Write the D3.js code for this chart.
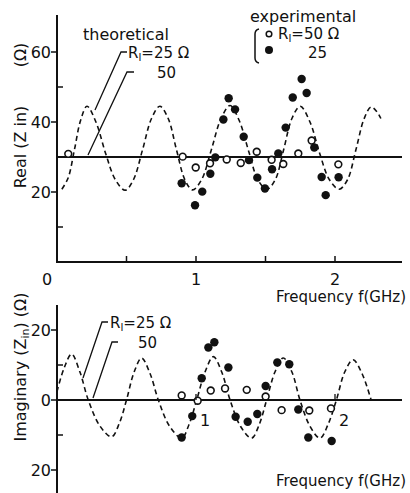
<!DOCTYPE html>
<html>
<head>
<meta charset="utf-8">
<script src="https://cdn.jsdelivr.net/npm/d3@7"></script>
<style>
  body { margin: 0; background: #fff; }
  svg text { font-family: "DejaVu Sans", sans-serif; fill: #111; }
</style>
</head>
<body>
<svg id="chart"></svg>
<script>
// theoretical curves (R_l = 25 ohm)
const realTheoF = [0.035, 0.08, 0.125, 0.17, 0.216, 0.28, 0.35, 0.42, 0.49, 0.55, 0.615, 0.68, 0.74, 0.80, 0.86, 0.92, 0.975, 1.04, 1.11, 1.18, 1.245, 1.31, 1.38, 1.445, 1.51, 1.57, 1.63, 1.69, 1.75, 1.82, 1.89, 1.96, 2.03, 2.09, 2.15, 2.21, 2.26, 2.30, 2.33];
const realTheoV = [20.8, 24, 32, 40.5, 44.5, 40, 31, 23.5, 20.5, 23.5, 32, 41, 44.5, 41, 32, 23.5, 20.6, 23.5, 32, 41, 44.7, 40.5, 31.5, 23.5, 20.8, 23.5, 32, 41, 44.5, 40, 31, 23.5, 20.8, 23.5, 32, 41, 44.3, 43, 41];
const realTheo50 = 30;

const imagTheoF = [0.0, 0.05, 0.105, 0.165, 0.225, 0.31, 0.393, 0.45, 0.50, 0.555, 0.609, 0.67, 0.729, 0.81, 0.897, 0.95, 1.005, 1.065, 1.125, 1.185, 1.245, 1.32, 1.40, 1.455, 1.508, 1.568, 1.628, 1.69, 1.748, 1.82, 1.892, 1.95, 2.01, 2.07, 2.13, 2.195, 2.26];
const imagTheoV = [2.4, 9, 13.1, 8, 0, -7.5, -10.5, -6.5, 0, 8, 12, 7.5, 0, -7.5, -10.9, -7, 0, 8, 12.4, 8, 0, -7.5, -10.9, -7, 0, 8, 12, 8, 0, -7.5, -10.9, -7, 0, 8, 11.5, 7.5, 0];
const imagTheo50 = 0;

// experimental, R_l = 50 (open circles)
const realExp50F = [0.081, 0.904, 0.998, 1.101, 1.221, 1.322, 1.437, 1.544, 1.628, 1.736, 1.832, 2.024];
const realExp50V = [30.9, 30.1, 27.0, 28.2, 29.3, 28.3, 31.5, 29.2, 28.0, 31.0, 34.7, 27.9];
// experimental, R_l = 25 (filled circles)
const realExp25F = [0.897, 0.993, 1.045, 1.103, 1.139, 1.197, 1.235, 1.281, 1.343, 1.381, 1.441, 1.496, 1.547, 1.592, 1.645, 1.696, 1.760, 1.796, 1.851, 1.904, 1.933, 2.026];
const realExp25V = [22.5, 16.2, 20.1, 25.2, 29.9, 40.7, 46.8, 43.6, 35.8, 29.1, 24.1, 21.0, 26.5, 31.0, 38.4, 47.0, 52.3, 48.3, 32.7, 24.3, 19.1, 24.2];

const imagExp50F = [0.897, 1.012, 1.106, 1.209, 1.365, 1.501, 1.616, 1.815, 1.971];
const imagExp50V = [1.3, -0.2, 2.7, 3.3, 2.9, 1.0, -2.9, -3.0, -2.4];
const imagExp25F = [0.897, 0.973, 1.041, 1.089, 1.132, 1.233, 1.285, 1.372, 1.441, 1.501, 1.585, 1.671, 1.736, 1.808, 1.976];
const imagExp25V = [-10.7, -4.6, 6.2, 15.0, 16.5, 9.3, -4.8, -6.2, -4.0, 4.0, 10.7, 10.2, -2.7, -10.7, -11.7];

const xTicks = [0.5, 1, 1.5, 2];
const xTickLabels = [0, 1, 2];
const realTicks = [10, 20, 30, 40, 50, 60];
const realTickLabels = [20, 40, 60];
const imagTicks = [-20, -10, 0, 10, 20];
const imagTickLabels = [-20, 0, 20];

const width = 410, height = 493;
const svg = d3.select("#chart").attr("width", width).attr("height", height);

const x = d3.scaleLinear().domain([0, 1]).range([57, 196]);
const yR = d3.scaleLinear().domain([0, 20]).range([262, 192]);
const yI = d3.scaleLinear().domain([0, 20]).range([400, 330]);

const ink = "#111";
const axisW = 2;

function zip(a, b) { return a.map((v, i) => [v, b[i]]); }

function subLabel(g, xPos, yPos, head, sub, tail, size) {
  const t = g.append("text").attr("x", xPos).attr("y", yPos).attr("font-size", size);
  t.append("tspan").text(head);
  t.append("tspan").attr("font-size", size * 0.7).attr("dy", 3).text(sub);
  t.append("tspan").attr("dy", -3).text(tail);
  return t;
}

function panel(y, top, bottom, theoF, theoV, flat, e50F, e50V, e25F, e25V, ticks, tickLabels, fmt) {
  const g = svg.append("g");
  // y axis
  g.append("line").attr("x1", 57).attr("x2", 57).attr("y1", top).attr("y2", bottom)
    .attr("stroke", ink).attr("stroke-width", axisW);
  ticks.forEach(t => {
    const major = tickLabels.includes(t);
    g.append("line")
      .attr("x1", major ? 51 : 57).attr("x2", major ? 57 : 63)
      .attr("y1", y(t)).attr("y2", y(t))
      .attr("stroke", ink).attr("stroke-width", 1.5);
  });
  tickLabels.forEach(t => {
    g.append("text").attr("x", 51).attr("y", y(t) + 6)
      .attr("text-anchor", "end").attr("font-size", 16).text(fmt(t));
  });
  // flat theoretical line (R_l = 50)
  g.append("line").attr("x1", 57).attr("x2", 402)
    .attr("y1", y(flat)).attr("y2", y(flat))
    .attr("stroke", ink).attr("stroke-width", 2);
  // dashed theoretical line (R_l = 25)
  const line = d3.line().x(d => x(d[0])).y(d => y(d[1])).curve(d3.curveCatmullRom);
  g.append("path").attr("d", line(zip(theoF, theoV)))
    .attr("fill", "none").attr("stroke", ink).attr("stroke-width", 1.6)
    .attr("stroke-dasharray", "5,3.5");
  // experimental points
  g.selectAll("circle.open").data(zip(e50F, e50V)).join("circle")
    .attr("class", "open").attr("cx", d => x(d[0])).attr("cy", d => y(d[1]))
    .attr("r", 3.4).attr("fill", "#fff").attr("stroke", ink).attr("stroke-width", 1.6);
  g.selectAll("circle.fill").data(zip(e25F, e25V)).join("circle")
    .attr("class", "fill").attr("cx", d => x(d[0])).attr("cy", d => y(d[1]))
    .attr("r", 4.2).attr("fill", ink);
  return g;
}

// ---- top panel: real part
const gTop = panel(yR, 15, 262, realTheoF, realTheoV, realTheo50,
  realExp50F, realExp50V, realExp25F, realExp25V, realTicks, realTickLabels, d => d);

// x axis of top panel
gTop.append("line").attr("x1", 56).attr("x2", 402).attr("y1", 262).attr("y2", 262)
  .attr("stroke", ink).attr("stroke-width", axisW);
xTicks.forEach(t => {
  gTop.append("line").attr("x1", x(t)).attr("x2", x(t)).attr("y1", 262).attr("y2", 256)
    .attr("stroke", ink).attr("stroke-width", 1.5);
});
xTickLabels.forEach(t => {
  gTop.append("text").attr("x", t === 0 ? x(t) - 10 : x(t)).attr("y", 285)
    .attr("text-anchor", "middle").attr("font-size", 16).text(t);
});
gTop.append("text").attr("x", 406).attr("y", 302).attr("text-anchor", "end")
  .attr("font-size", 15).text("Frequency  f(GHz)");

// y label
gTop.append("text").attr("transform", "translate(26,147) rotate(-90)")
  .attr("text-anchor", "middle").attr("font-size", 16).text("Real (Z in)");
gTop.append("text").attr("transform", "translate(26,55) rotate(-90)")
  .attr("text-anchor", "middle").attr("font-size", 16).text("(Ω)");

// theoretical legend
gTop.append("text").attr("x", 83).attr("y", 40).attr("font-size", 16).text("theoretical");
subLabel(gTop, 128, 58, "R", "l", "=25 Ω", 15);
gTop.append("text").attr("x", 157).attr("y", 78).attr("font-size", 15).text("50");
gTop.append("polyline").attr("points", "127,52 121,52 95,110")
  .attr("fill", "none").attr("stroke", ink).attr("stroke-width", 1.3);
gTop.append("polyline").attr("points", "134,72 127,72 88,155")
  .attr("fill", "none").attr("stroke", ink).attr("stroke-width", 1.3);

// experimental legend
gTop.append("text").attr("x", 250).attr("y", 22).attr("font-size", 16).text("experimental");
gTop.append("path").attr("d", "M259,29 Q255,30 255,34 L255,58 Q255,62 259,63")
  .attr("fill", "none").attr("stroke", ink).attr("stroke-width", 1.5);
gTop.append("circle").attr("cx", 269).attr("cy", 34).attr("r", 2.8)
  .attr("fill", "#fff").attr("stroke", ink).attr("stroke-width", 1.5);
gTop.append("circle").attr("cx", 269).attr("cy", 50).attr("r", 4).attr("fill", ink);
subLabel(gTop, 278, 39, "R", "l", "=50  Ω", 15);
gTop.append("text").attr("x", 308).attr("y", 58).attr("font-size", 15).text("25");

// ---- bottom panel: imaginary part
const gBot = panel(yI, 305, 493, imagTheoF, imagTheoV, imagTheo50,
  imagExp50F, imagExp50V, imagExp25F, imagExp25V, imagTicks, imagTickLabels, d => Math.abs(d));

[1, 2].forEach(t => {
  gBot.append("line").attr("x1", x(t)).attr("x2", x(t)).attr("y1", yI(0)).attr("y2", yI(0) - 6)
    .attr("stroke", ink).attr("stroke-width", 1.3);
  gBot.append("text").attr("x", x(t) + 4).attr("y", 426).attr("font-size", 16).text(t);
});
gBot.append("text").attr("x", 406).attr("y", 486).attr("text-anchor", "end")
  .attr("font-size", 15).text("Frequency  f(GHz)");

const yl2 = gBot.append("text").attr("transform", "translate(26,367) rotate(-90)")
  .attr("text-anchor", "middle").attr("font-size", 16);
yl2.append("tspan").text("Imaginary (Z");
yl2.append("tspan").attr("font-size", 11).attr("dy", 3).text("in");
yl2.append("tspan").attr("dy", -3).text(")  (Ω)");

subLabel(gBot, 110, 328, "R", "l", "=25 Ω", 15);
gBot.append("text").attr("x", 138).attr("y", 348).attr("font-size", 15).text("50");
gBot.append("polyline").attr("points", "108,322 102,322 83,378")
  .attr("fill", "none").attr("stroke", ink).attr("stroke-width", 1.3);
gBot.append("polyline").attr("points", "118,342 112,342 93,398")
  .attr("fill", "none").attr("stroke", ink).attr("stroke-width", 1.3);
</script>
</body>
</html>
